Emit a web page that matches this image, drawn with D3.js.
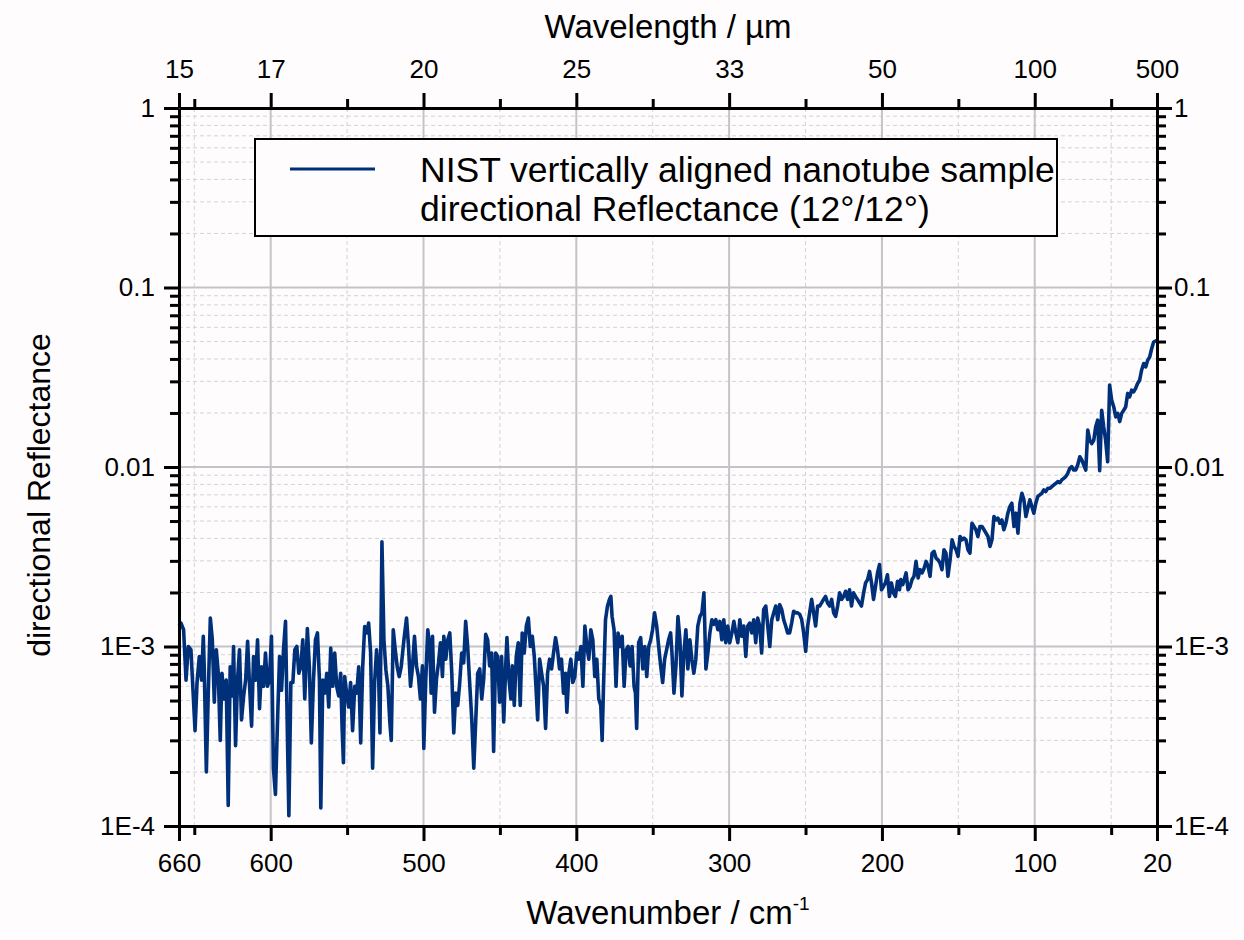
<!DOCTYPE html>
<html>
<head>
<meta charset="utf-8">
<script src="https://cdn.jsdelivr.net/npm/d3@7"></script>
<style>
  body { margin: 0; background: #fefcfd; }
</style>
<script>
// wavenumber in cm-1 (descending, as drawn left to right)
var wavenumber = [
  660, 658.7, 657.0, 655.4, 653.9, 652.2, 651.1, 649.5, 648.2, 646.7,
  645.2, 644.1, 643.5, 642.1, 640.8, 639.5, 638.2, 636.9, 635.6, 634.3,
  633.0, 631.9, 630.4, 629.1, 627.8, 626.5, 625.1, 624.3, 623.0, 621.7,
  620.4, 619.1, 617.7, 616.4, 615.1, 613.8, 612.5, 611.2, 609.9, 608.6,
  607.3, 606.0, 604.7, 603.4, 602.1, 600.8, 599.5, 598.2, 596.9, 595.5,
  594.2, 592.9, 591.6, 590.3, 589.0, 588.1, 586.8, 585.5, 584.2, 582.9,
  581.6, 580.3, 579.0, 577.7, 576.0, 574.7, 573.4, 572.0, 570.7, 569.4,
  568.1, 567.2, 565.9, 564.6, 563.3, 562.0, 560.7, 559.4, 558.1, 556.8,
  555.5, 554.2, 553.3, 552.4, 551.6, 550.3, 549.0, 547.7, 546.4, 545.0,
  543.7, 542.4, 541.1, 539.8, 538.5, 537.2, 535.9, 534.6, 533.3, 532.0,
  530.7, 529.4, 528.5, 527.2, 525.9, 524.6, 523.3, 522.0, 521.1, 519.8,
  518.5, 517.2, 515.9, 514.6, 512.8, 511.1, 509.8, 508.5, 507.2, 505.9,
  504.6, 503.3, 502.0, 500.7, 499.8, 498.5, 497.2, 495.9, 495.0, 494.1,
  492.8, 491.5, 490.2, 488.9, 487.6, 486.7, 485.4, 484.1, 482.8, 481.5,
  480.2, 478.9, 477.6, 476.3, 475.0, 473.7, 472.4, 471.1, 469.8, 468.4,
  467.1, 465.8, 464.5, 463.2, 461.9, 460.6, 459.3, 458.0, 456.7, 455.4,
  454.1, 452.8, 451.5, 450.2, 448.9, 447.5, 446.2, 445.4, 444.1, 442.8,
  441.9, 440.6, 439.3, 438.0, 436.7, 435.4, 434.1, 432.7, 431.4, 430.1,
  428.8, 427.5, 426.2, 425.3, 424.0, 422.7, 421.4, 420.1, 418.8, 417.5,
  416.2, 414.9, 413.6, 412.3, 411.0, 409.7, 408.4, 407.1, 406.2, 404.9,
  403.6, 402.3, 401.0, 399.7, 398.3, 397.0, 395.7, 394.4, 393.1, 391.8,
  390.5, 389.2, 387.9, 386.6, 385.3, 384.0, 383.1, 382.2, 380.9, 379.6,
  378.3, 377.4, 376.6, 375.3, 374.0, 372.7, 371.3, 370.0, 368.7, 367.4,
  366.1, 364.8, 363.5, 362.2, 361.3, 360.5, 359.2, 357.9, 356.5, 355.2,
  353.9, 352.6, 351.3,
  350.1, 348.8, 347.4, 346.1, 344.8, 343.5, 342.2, 340.9, 339.6, 338.3,
  337.4, 336.1, 334.8, 333.5, 332.2, 330.9, 329.6, 328.3, 327.0, 325.7,
  324.4, 323.1, 321.8, 320.5, 319.1, 317.8, 316.5, 315.2, 313.9, 312.6,
  311.3, 310.0, 308.7, 307.4, 306.1, 304.8, 303.5, 302.2, 300.9, 299.6,
  298.2, 296.9, 295.6, 294.3, 293.0, 291.7, 290.4, 289.1, 287.8, 286.5,
  285.2, 283.9, 282.6, 281.3, 280.0, 278.7, 277.4, 276.0, 274.7, 273.4,
  272.1, 270.8, 269.5, 268.2, 266.9, 265.6, 264.3, 263.0, 261.7, 260.4,
  259.1, 257.8, 256.4, 255.1, 253.8, 252.5, 251.2, 249.9, 248.6, 247.3,
  246.0, 244.7, 243.4, 242.1, 240.8, 239.5, 238.2, 236.9, 235.6, 234.2,
  232.9, 231.6, 230.3, 229.0, 227.7, 226.4, 225.1, 223.8, 222.5, 221.2,
  219.9, 218.6, 217.3, 216.0, 214.7, 213.4, 212.0, 210.7, 209.4, 208.1,
  206.8, 205.5, 204.2, 202.9, 201.6, 200.3, 199.0, 197.7, 196.4, 195.1,
  193.8, 192.5, 191.2, 189.8, 188.5,
  187.7, 186.4, 185.1, 184.2, 182.9, 181.6, 180.3, 179.0, 177.7, 176.3,
  175.0, 173.7, 172.4, 171.1, 169.8, 168.5, 167.2, 165.9, 164.6, 163.3,
  162.0, 160.7, 159.4, 158.1, 156.8, 155.4, 154.1, 152.8, 151.5, 150.2,
  148.9, 147.6, 146.3, 145.0, 143.7, 142.4, 141.1, 139.8, 138.5, 137.2,
  135.9, 134.5, 133.2, 131.9, 130.6, 129.3, 128.0, 126.7, 125.4, 124.1,
  122.8, 121.5, 120.2, 118.9, 117.6, 116.3, 115.0, 113.6, 112.3, 111.0,
  109.7, 108.4, 107.1, 105.8, 104.5, 103.2, 101.9, 100.6, 99.3, 98.0,
  96.7, 95.4, 94.1, 92.8, 91.4, 90.1, 88.8, 87.5, 86.2, 84.9,
  83.6, 82.3, 81.0, 79.7, 78.4, 77.1, 75.8, 74.5, 73.2, 71.9,
  70.5, 69.2, 67.9, 66.6, 65.3, 64.0, 62.7, 61.4, 60.1, 58.8,
  57.5, 56.2, 54.9, 53.6, 52.3, 51.0, 49.7, 48.3, 47.0, 45.7,
  44.4, 43.1, 41.8, 40.5, 39.2, 37.9, 36.6, 35.3, 34.0, 32.7,
  31.4, 30.1, 28.7, 27.4, 26.1, 24.8, 23.5, 22.2, 20.0
];

// directional reflectance, in units of 1E-3
var reflectance = [
  1.30, 1.35, 1.24, 0.65, 1.00, 0.96, 0.63, 0.34, 0.63, 0.88,
  0.65, 1.14, 0.77, 0.20, 0.57, 1.44, 1.09, 0.49, 0.96, 0.71,
  0.30, 0.71, 0.51, 0.65, 0.13, 0.77, 0.53, 1.00, 0.28, 0.65,
  0.96, 0.39, 0.53, 0.65, 1.07, 0.60, 0.36, 0.88, 0.65, 1.09,
  0.45, 0.77, 0.60, 0.92, 0.60, 0.65, 1.14, 0.21, 0.15, 0.39,
  0.88, 0.57, 0.96, 1.38, 0.30, 0.114, 0.63, 0.63, 0.96, 1.00,
  0.71, 0.77, 1.09, 0.51, 1.26, 0.77, 0.29, 0.65, 1.09, 1.19,
  0.65, 0.126, 0.65, 0.55, 0.71, 0.46, 0.98, 0.60, 0.92, 0.60,
  0.53, 0.71, 0.36, 0.225, 0.68, 0.55, 0.46, 0.63, 0.34, 0.60,
  0.55, 0.77, 0.29, 0.77, 1.29, 1.19, 1.35, 0.92, 0.21, 0.63,
  0.96, 0.71, 0.33, 3.83, 1.09, 0.74, 0.60, 0.375, 0.30, 1.24,
  0.96, 0.77, 0.68, 0.77, 1.09, 1.44, 1.00, 0.60, 0.77, 1.14,
  0.78, 0.68, 0.51, 0.78, 0.27, 0.66, 1.24, 1.00, 0.55, 1.14,
  0.43, 0.66, 0.81, 1.05, 0.68, 1.14, 0.85, 1.09, 1.19, 0.71,
  0.33, 0.55, 0.47, 0.63, 0.92, 0.81, 1.38, 1.00, 0.63, 0.39,
  0.21, 0.39, 0.71, 0.75, 0.51, 0.66, 1.17, 1.09, 0.78, 0.92,
  0.26, 0.92, 0.88, 0.49, 0.88, 0.38, 0.78, 1.12, 0.66, 0.51,
  0.78, 0.47, 0.88, 1.05, 0.47, 1.19, 0.92, 1.30, 1.44, 1.00,
  1.14, 0.88, 0.55, 0.39, 0.85, 0.71, 0.60, 0.35, 0.71, 0.85,
  0.75, 0.92, 1.12, 0.96, 0.75, 0.85, 0.55, 0.71, 0.43, 0.71,
  0.85, 0.63, 0.68, 0.92, 0.85, 1.00, 0.60, 1.30, 1.00, 0.85,
  1.24, 1.09, 0.68, 0.85, 0.51, 0.47, 0.30, 0.60, 1.41, 1.68,
  1.83, 1.90, 1.47, 1.24, 0.60, 1.19, 1.00, 1.14, 0.60, 0.96,
  1.00, 0.78, 1.00, 0.60, 0.55, 0.35, 1.05, 1.12, 0.75, 1.00,
  0.68, 1.00, 1.09,
  1.24, 1.54, 1.30, 1.00, 0.78, 0.63, 0.85, 0.96, 1.09, 1.19,
  0.92, 0.55, 0.78, 1.47, 1.09, 0.53, 0.92, 1.24, 0.75, 1.09,
  0.85, 0.71, 0.85, 1.30, 1.47, 1.54, 1.99, 0.75, 0.92, 1.19,
  1.41, 1.33, 1.41, 1.24, 1.38, 1.09, 1.41, 1.05, 1.30, 1.05,
  1.19, 1.38, 1.19, 1.05, 1.41, 1.14, 1.30, 0.88, 1.30, 1.35,
  1.19, 1.41, 1.05, 1.44, 1.30, 0.92, 1.61, 1.68, 1.30, 1.00,
  1.41, 1.54, 1.68, 1.41, 1.71, 1.61, 1.41, 1.30, 1.19, 1.19,
  1.35, 1.57, 1.54, 1.54, 1.51, 1.41, 1.19, 0.94, 1.30, 1.54,
  1.83, 1.54, 1.30, 1.68, 1.68, 1.75, 1.83, 1.90, 1.75, 1.68,
  1.83, 1.54, 1.47, 1.68, 1.99, 1.83, 1.90, 2.03, 1.83, 2.07,
  1.68, 1.99, 1.90, 1.83, 1.75, 1.68, 1.99, 2.26, 2.36, 2.62,
  2.26, 1.83, 2.16, 2.57, 2.86, 2.07, 2.16, 2.26, 2.51, 1.90,
  2.26, 1.99, 1.90, 2.31, 2.07,
  2.36, 2.21, 2.41, 2.57, 2.07, 2.16, 2.36, 2.46, 2.98, 2.41,
  2.68, 2.57, 2.73, 2.98, 2.79, 2.46, 3.31, 3.39, 3.11, 3.04,
  2.92, 2.68, 3.46, 3.31, 2.46, 3.04, 3.93, 3.61, 3.46, 3.18,
  4.10, 3.93, 4.02, 3.93, 3.46, 3.31, 4.86, 4.66, 4.47, 4.10,
  4.66, 4.66, 4.47, 4.28, 4.10, 3.61, 3.93, 5.30, 5.07, 5.19,
  4.86, 5.07, 4.47, 4.86, 5.53, 6.02, 6.28, 4.66, 5.53, 4.28,
  6.28, 7.14, 6.56, 5.30, 5.90, 6.56, 6.02, 5.53, 6.28, 6.85,
  6.99, 7.14, 7.45, 7.30, 7.61, 7.61, 7.77, 7.94, 8.11, 8.29,
  8.18, 8.47, 8.65, 8.84, 9.22, 9.83, 10.04, 9.62, 9.62, 10.26,
  11.4, 10.94, 10.26, 9.62, 16.05, 14.1, 13.5, 14.1, 16.75, 18.25,
  9.54, 20.7, 16.75, 14.1, 10.7, 28.6, 23.6, 21.6, 19.0, 19.9,
  17.9, 19.9, 20.7, 21.6, 25.7, 24.6, 26.8, 26.2, 27.4, 29.2,
  30.4, 34.6, 37.7, 36.1, 39.3, 41.0, 45.6, 49.7, 50.8
];
var reflectanceUnit = 1e-3;

// axes ticks
var wnMajor = [660, 600, 500, 400, 300, 200, 100, 20];
var wnMinor = [650, 550, 450, 350, 250, 150, 50];
var wlLabels = ["15", "17", "20", "25", "33", "50", "100", "500"];   // wavelength / um at the wnMajor ticks
var yMajor = [1, 0.1, 0.01, 1e-3, 1e-4];
var yLabels = ["1", "0.1", "0.01", "1E-3", "1E-4"];
var yMinorSteps = [2, 3, 4, 5, 6, 7, 8, 9];

var legendLines = ["NIST vertically aligned nanotube sample", "directional Reflectance (12\u00b0/12\u00b0)"];

function makeSVG() {

    var svg = d3.select("#fig");

    const width = +svg.attr("width");
    const height = +svg.attr("height");
    const margin = { left: 179, top: 108, right: 87, bottom: 114 };
    const font = "'Liberation Sans', Arial, sans-serif";
    const lineColor = "#00307a";

    // scales
    const xSc = d3.scaleLinear().domain([660, 20])
                  .range([margin.left, width - margin.right]);
    const ySc = d3.scaleLog().domain([1e-4, 1])
                  .range([height - margin.bottom, margin.top]);

    var yMinor = [];
    [1e-4, 1e-3, 1e-2, 1e-1].forEach(dec => yMinorSteps.forEach(s => yMinor.push(s * dec)));

    // grid
    var grid = svg.append("g");
    grid.selectAll(".vmin").data(wnMinor).enter().append("line")
        .attr("x1", d => xSc(d)).attr("x2", d => xSc(d))
        .attr("y1", ySc(1)).attr("y2", ySc(1e-4))
        .attr("stroke", "#d4d4d4").attr("stroke-width", 1).attr("stroke-dasharray", "4,3");
    grid.selectAll(".hmin").data(yMinor).enter().append("line")
        .attr("x1", xSc(660)).attr("x2", xSc(20))
        .attr("y1", d => ySc(d)).attr("y2", d => ySc(d))
        .attr("stroke", "#d4d4d4").attr("stroke-width", 1).attr("stroke-dasharray", "4,3");
    grid.selectAll(".vmaj").data(wnMajor.slice(1, -1)).enter().append("line")
        .attr("x1", d => xSc(d)).attr("x2", d => xSc(d))
        .attr("y1", ySc(1)).attr("y2", ySc(1e-4))
        .attr("stroke", "#c4c4c8").attr("stroke-width", 2);
    grid.selectAll(".hmaj").data(yMajor.slice(1, -1)).enter().append("line")
        .attr("x1", xSc(660)).attr("x2", xSc(20))
        .attr("y1", d => ySc(d)).attr("y2", d => ySc(d))
        .attr("stroke", "#c4c4c8").attr("stroke-width", 2);

    // data line
    var ds = wavenumber.map((w, i) => [w, reflectance[i] * reflectanceUnit]);
    var lnMkr = d3.line().x(d => xSc(d[0])).y(d => ySc(d[1]));
    svg.append("path")
       .attr("d", lnMkr(ds))
       .attr("fill", "none")
       .attr("stroke", lineColor)
       .attr("stroke-width", 3.6)
       .attr("stroke-linejoin", "round");

    // legend
    var lg = svg.append("g");
    lg.append("rect").attr("x", 255).attr("y", 139).attr("width", 802).attr("height", 97)
      .attr("fill", "#fefcfd").attr("stroke", "#000").attr("stroke-width", 2);
    lg.append("line").attr("x1", 290).attr("x2", 375).attr("y1", 169).attr("y2", 169)
      .attr("stroke", lineColor).attr("stroke-width", 3);
    lg.selectAll("text").data(legendLines).enter().append("text")
      .attr("x", 420).attr("y", (d, i) => 182 + i * 39)
      .attr("font-family", font).attr("font-size", 35.5)
      .text(d => d);

    // axes
    function style(g, noDomain) {
        g.attr("font-family", font).attr("font-size", 26);
        g.select(".domain").attr("stroke-width", 3);
        if (noDomain) g.select(".domain").remove();
        g.selectAll(".tick line").attr("stroke-width", 3);
        g.selectAll(".tick text").attr("fill", "#000");
    }

    const bottom = height - margin.bottom, right = width - margin.right;

    var gb = svg.append("g").attr("transform", `translate(0,${bottom})`);
    d3.axisBottom(xSc).tickValues(wnMajor).tickFormat(d3.format("d"))
      .tickSize(15).tickSizeOuter(0).tickPadding(13)(gb);
    style(gb);
    var gbm = svg.append("g").attr("transform", `translate(0,${bottom})`);
    d3.axisBottom(xSc).tickValues(wnMinor).tickFormat("").tickSize(9)(gbm);
    style(gbm, true);

    var gt = svg.append("g").attr("transform", `translate(0,${margin.top})`);
    d3.axisTop(xSc).tickValues(wnMajor).tickFormat((d, i) => wlLabels[i])
      .tickSize(15).tickSizeOuter(0).tickPadding(15)(gt);
    style(gt);
    var gtm = svg.append("g").attr("transform", `translate(0,${margin.top})`);
    d3.axisTop(xSc).tickValues(wnMinor).tickFormat("").tickSize(9)(gtm);
    style(gtm, true);

    var gl = svg.append("g").attr("transform", `translate(${margin.left},0)`);
    d3.axisLeft(ySc).tickValues(yMajor).tickFormat((d, i) => yLabels[i])
      .tickSize(15).tickSizeOuter(0).tickPadding(9)(gl);
    style(gl);
    var glm = svg.append("g").attr("transform", `translate(${margin.left},0)`);
    d3.axisLeft(ySc).tickValues(yMinor).tickFormat("").tickSize(9)(glm);
    style(glm, true);

    var gr = svg.append("g").attr("transform", `translate(${right},0)`);
    d3.axisRight(ySc).tickValues(yMajor).tickFormat((d, i) => yLabels[i])
      .tickSize(15).tickSizeOuter(0).tickPadding(2)(gr);
    style(gr);
    var grm = svg.append("g").attr("transform", `translate(${right},0)`);
    d3.axisRight(ySc).tickValues(yMinor).tickFormat("").tickSize(9)(grm);
    style(grm, true);

    // axis titles
    const midX = (margin.left + right) / 2;
    svg.append("text").attr("x", midX).attr("y", 38)
       .attr("text-anchor", "middle").attr("font-family", font).attr("font-size", 33)
       .text("Wavelength / \u00b5m");

    var xt = svg.append("text").attr("x", midX).attr("y", 924)
       .attr("text-anchor", "middle").attr("font-family", font).attr("font-size", 33);
    xt.append("tspan").text("Wavenumber / cm");
    xt.append("tspan").attr("dy", -14).attr("font-size", 19).text("-1");

    svg.append("text")
       .attr("transform", `translate(50,495) rotate(-90)`)
       .attr("text-anchor", "middle").attr("font-family", font).attr("font-size", 32)
       .text("directional Reflectance");
}
</script>
</head>
<body onload="makeSVG()">
<svg id="fig" width="1244" height="940" style="background: #fefcfd"></svg>
</body>
</html>
